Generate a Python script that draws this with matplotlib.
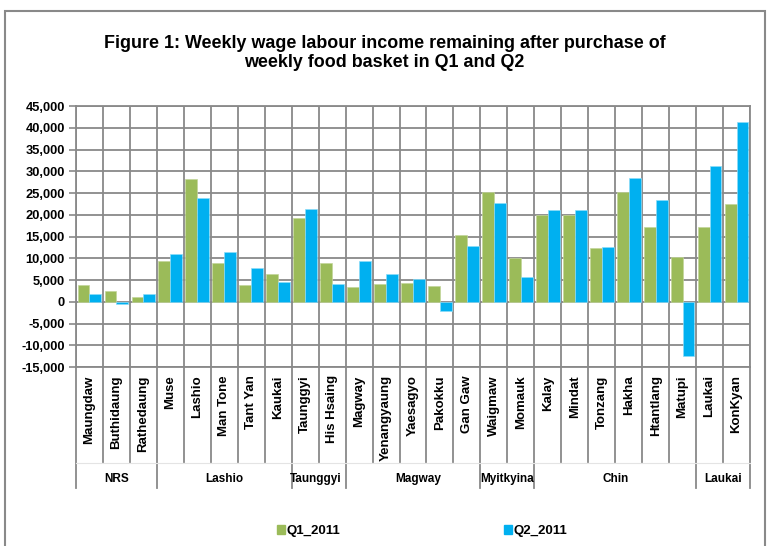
import numpy as np
import matplotlib
matplotlib.use("Agg")
import matplotlib.pyplot as plt
from matplotlib.patches import Rectangle, Patch
from matplotlib import transforms

plt.rcParams['font.family'] = ['Liberation Sans', 'DejaVu Sans']

# data
districts = ["Maungdaw", "Buthidaung", "Rathedaung", "Muse", "Lashio", "Man Tone",
             "Tant Yan", "Kaukai", "Taunggyi", "His Hsaing", "Magway", "Yenangyaung",
             "Yaesagyo", "Pakokku", "Gan Gaw", "Waigmaw", "Momauk", "Kalay", "Mindat",
             "Tonzang", "Hakha", "Htantlang", "Matupi", "Laukai", "KonKyan"]
q1_2011 = [3800, 2400, 1100, 9400, 28200, 8800, 3900, 6300, 19300, 8800, 3400, 4100,
           4300, 3700, 15400, 25300, 10000, 19900, 19900, 12300, 25200, 17200, 10400,
           17200, 22400]
q2_2011 = [1800, -500, 1700, 11000, 23900, 11400, 7800, 4500, 21400, 4100, 9300, 6300,
           5300, -2200, 12900, 22700, 5600, 21200, 21000, 12600, 28400, 23400, -12500,
           31100, 41400]
regions = ["NRS", "Lashio", "Taunggyi", "Magway", "Myitkyina", "Chin", "Laukai"]
region_sizes = [3, 5, 2, 5, 2, 6, 2]

green = "#9BBB59"
blue = "#00B0F0"
grey = "#898989"

fig = plt.figure(figsize=(7.69, 5.46), dpi=100)
ax = fig.add_axes([0.0988, 0.3278, 0.8765, 0.478])

x = np.arange(len(districts))
w = 0.44
ax.bar(x - w/2, q1_2011, w, color=green, edgecolor="#c3d69b", linewidth=0.5, zorder=3)
ax.bar(x + w/2, q2_2011, w, color=blue, edgecolor="#8ddcf8", linewidth=0.5, zorder=3)

ax.set_xlim(-0.5, len(districts) - 0.5)
ax.set_ylim(-15000, 45000)
ax.set_yticks(np.arange(-15000, 45001, 5000))
ax.set_yticklabels([f"{v:,}" for v in range(-15000, 45001, 5000)],
                   fontsize=9.3, fontweight="bold")
ax.set_xticks(x)
ax.set_xticklabels(districts, rotation=90, fontsize=9.5, fontweight="bold")
ax.tick_params(axis="x", length=0, pad=6)
ax.tick_params(axis="y", length=5, width=1.2, color=grey, pad=3)
ax.set_xticks(np.arange(-0.5, len(districts)), minor=True)
ax.tick_params(axis="x", which="minor", length=0)
ax.grid(which="minor", axis="x", color=grey, linewidth=1.3, zorder=0)
ax.grid(which="major", axis="y", color=grey, linewidth=1.3, zorder=0)
for s in ax.spines.values():
    s.set_color(grey)
    s.set_linewidth(1.3)

# category / region separators below the axis
trans = transforms.blended_transform_factory(ax.transData, ax.transAxes)
bounds = np.cumsum([0] + region_sizes) - 0.5
for b in np.arange(-0.5, len(districts)):
    bottom = -0.465 if b in bounds else -0.365
    ax.plot([b, b], [0, bottom], transform=trans, color=grey, lw=1.3, clip_on=False)
ax.plot([-0.5, len(districts) - 0.5], [-0.367, -0.367], transform=trans,
        color="#e4e4e4", lw=0.8, clip_on=False)
label_pos = [1.0, 5.0, 8.4, 12.2, 15.5, 19.5, 23.5]
for name, p in zip(regions, label_pos):
    ax.text(p, -0.43, name, transform=trans, ha="center", va="center",
            fontsize=8.5, fontweight="bold")

fig.text(0.5, 0.903, "Figure 1: Weekly wage labour income remaining after purchase of\n"
         "weekly food basket in Q1 and Q2", ha="center", va="center",
         fontsize=12.9, fontweight="bold", linespacing=1.15)

handles = [Patch(color=green, label="Q1_2011"), Patch(color=blue, label="Q2_2011")]
fig.legend(handles=handles, loc="center", bbox_to_anchor=(0.549, 0.027), ncol=2,
           frameon=False, handlelength=0.6, handleheight=0.6, handletextpad=0.15,
           columnspacing=12.4, prop={"weight": "bold", "size": 9.5})

fig.patches.append(Rectangle((5/769, -0.02), 760/769, 1.0, transform=fig.transFigure,
                             fill=False, edgecolor=grey, linewidth=1.5))

fig.savefig("out.png", dpi=100)
